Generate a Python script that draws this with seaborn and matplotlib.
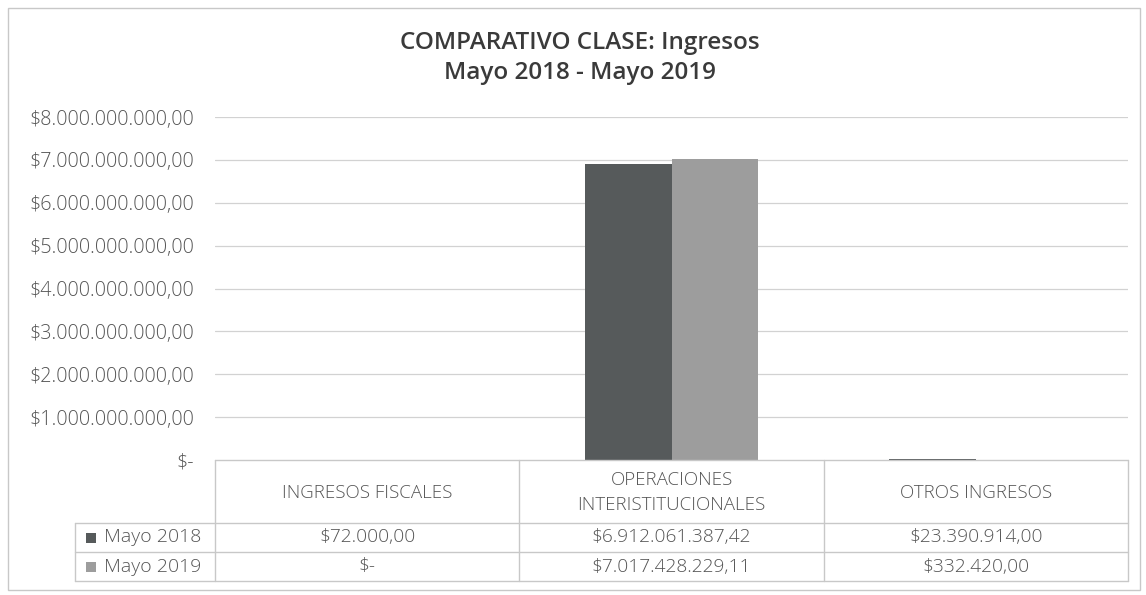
import matplotlib
matplotlib.use("Agg")
import matplotlib.pyplot as plt
import matplotlib.transforms as mtransforms
from matplotlib.patches import Rectangle
import numpy as np
import pandas as pd
import seaborn as sns

# ---- data ----
categories = ["INGRESOS FISCALES", "OPERACIONES\nINTERISTITUCIONALES", "OTROS INGRESOS"]
series_names = ["Mayo 2018", "Mayo 2019"]
mayo_2018 = [72000.00, 6912061387.42, 23390914.00]
mayo_2019 = [0.00, 7017428229.11, 332420.00]
y_ticks = [0, 1e9, 2e9, 3e9, 4e9, 5e9, 6e9, 7e9, 8e9]
title_lines = ["COMPARATIVO CLASE: Ingresos", "Mayo 2018 - Mayo 2019"]

series_colors = ["#565a5b", "#9d9d9d"]
text_color = "#555555"
grid_color = "#d2d2d2"
line_color = "#c8c8c8"

df = pd.DataFrame({
    "categoria": categories * 2,
    "serie": [series_names[0]] * 3 + [series_names[1]] * 3,
    "valor": mayo_2018 + mayo_2019,
})


def money(v):
    """Format a value as Spanish-style currency: $1.234.567,89 ; zero as $-"""
    if v == 0:
        return "$-"
    s = f"{v:,.2f}"
    s = s.replace(",", "_").replace(".", ",").replace("_", ".")
    return "$" + s


sns.set_theme(style="white")
plt.rcParams["font.family"] = ["Open Sans", "DejaVu Sans"]

W, H = 1146, 595
fig = plt.figure(figsize=(W / 100, H / 100), dpi=100)
fig.patch.set_facecolor("white")


def fx(x):
    return x / W


def fy(y):
    return 1 - y / H


# plot area
left, right, top, bottom = 215, 1128, 117, 460
ax = fig.add_axes([fx(left), fy(bottom), fx(right - left), fy(top) - fy(bottom)])

sns.barplot(data=df, x="categoria", y="valor", hue="serie", palette=series_colors,
            width=0.57, saturation=1, ax=ax, legend=False, errorbar=None,
            edgecolor="none", linewidth=0)

ax.set_xlim(-0.5, len(categories) - 0.5)
ax.set_ylim(0, y_ticks[-1])
ax.set_yticks(y_ticks)
ax.set_yticklabels([money(t) for t in y_ticks], color=text_color, fontsize=14.2,
                   fontweight="light")
ax.tick_params(axis="y", length=0, pad=15)
ax.set_xticks([])
ax.set_xlabel("")
ax.set_ylabel("")
for sp in ax.spines.values():
    sp.set_visible(False)
ax.set_axisbelow(True)
for t in y_ticks[1:]:
    ax.axhline(t, color=grid_color, lw=0.9, zorder=0)

# title
fig.text(fx(580), fy(43), title_lines[0], ha="center", va="center",
         fontsize=17.5, fontweight="semibold", color="#3a3a3a")
fig.text(fx(580), fy(73), title_lines[1], ha="center", va="center",
         fontsize=17.5, fontweight="semibold", color="#3a3a3a")

# outer chart border
fig.patches.append(Rectangle((fx(8), fy(590)), fx(1132), fy(8) - fy(590),
                             transform=fig.transFigure, fill=False,
                             edgecolor="#c8c8c8", lw=1.0))

# ---- data table below the axis (columns follow category slots) ----
blend = mtransforms.blended_transform_factory(ax.transData, fig.transFigure)
n = len(categories)
header_top, header_bot, row_h = 460, 523, 29
row_bots = [header_bot + row_h * (i + 1) for i in range(len(series_names))]
legend_left = 75

# horizontal lines
fig.add_artist(plt.Line2D([-0.5, n - 0.5], [fy(header_top)] * 2, transform=blend,
                          color=line_color, lw=1.0))
for yb in [header_bot] + row_bots:
    fig.add_artist(plt.Line2D([fx(legend_left), fx(right)], [fy(yb)] * 2,
                              transform=fig.transFigure, color=line_color, lw=1.0))
# vertical lines
for xb in np.arange(-0.5, n, 1.0):
    fig.add_artist(plt.Line2D([xb, xb], [fy(header_top), fy(row_bots[-1])],
                              transform=blend, color=line_color, lw=1.0))
fig.add_artist(plt.Line2D([fx(legend_left)] * 2, [fy(header_bot), fy(row_bots[-1])],
                          transform=fig.transFigure, color=line_color, lw=1.0))

# header cells
for i, cat in enumerate(categories):
    fig.text(i, fy((header_top + header_bot) / 2 + 1), cat, transform=blend,
             ha="center", va="center", fontsize=13.5, fontweight="light",
             color=text_color, linespacing=1.45)

# value rows with legend keys
for r, (name, vals, col) in enumerate(zip(series_names, [mayo_2018, mayo_2019], series_colors)):
    yc = header_bot + row_h * r + row_h / 2
    fig.patches.append(Rectangle((fx(86), fy(yc + 5)), fx(10), fy(yc - 5) - fy(yc + 5),
                                 transform=fig.transFigure, facecolor=col,
                                 edgecolor="none"))
    fig.text(fx(104), fy(yc), name, ha="left", va="center", fontsize=14,
             fontweight="light", color=text_color)
    for i, v in enumerate(vals):
        fig.text(i, fy(yc), money(v), transform=blend, ha="center", va="center",
                 fontsize=13.8, fontweight="light", color=text_color)

fig.savefig("out.png", dpi=100)
